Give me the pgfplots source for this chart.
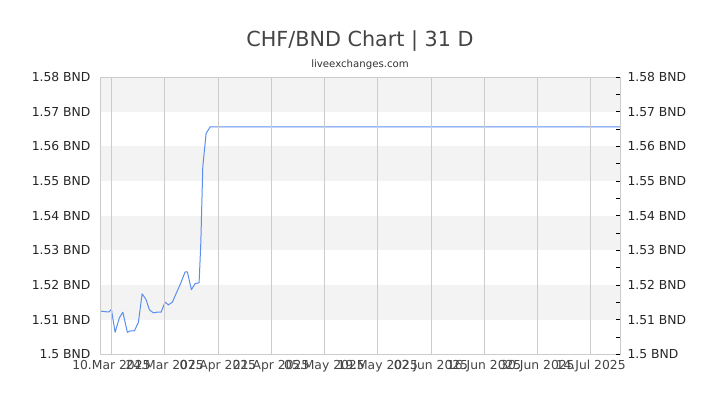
\documentclass[border=0pt]{standalone}
\usepackage{fontspec}
\setmainfont{DejaVu Sans}
\usepackage{pgfplots}
\pgfplotsset{compat=1.18}

\definecolor{band}{HTML}{F3F3F3}
\definecolor{gridc}{HTML}{CCCCCC}
\definecolor{linec}{HTML}{5B8DEE}
\definecolor{titlec}{HTML}{444444}

\begin{document}
\begin{tikzpicture}[x=1bp,y=1bp]
    \path[use as bounding box] (0,0) rectangle (720,405);
    \node[anchor=base, text=titlec, font={\fontsize{20.8}{24}\selectfont}] at (360,359) {CHF/BND Chart | 31 D};
    \node[anchor=base, text=black!80, font={\fontsize{10.2}{12}\selectfont}] at (360,337.5) {liveexchanges.com};

    % left axis with data
    \begin{axis}[
        at={(100bp,50.5bp)}, anchor=south west,
        scale only axis, width=520bp, height=277.5bp,
        xmin=-3, xmax=133.7, ymin=1.5, ymax=1.58,
        axis on top,
        axis line style={gridc},
        xtick={0,14,28,42,56,70,84,98,112,126},
        xticklabels={10.Mar 2025,24.Mar 2025,07.Apr 2025,21.Apr 2025,05.May 2025,19.May 2025,02.Jun 2025,16.Jun 2025,30.Jun 2025,14.Jul 2025},
        xmajorgrids, major grid style={gridc, line width=0.8bp},
        ytick={1.5,1.51,...,1.585},
        yticklabels={1.5 BND,1.51 BND,1.52 BND,1.53 BND,1.54 BND,1.55 BND,1.56 BND,1.57 BND,1.58 BND},
        major tick length=0pt,
        tick label style={font={\fontsize{12.4}{14}\selectfont}},
        xticklabel style={text=titlec, yshift=-2bp},
        yticklabel style={text=black!85, xshift=-6bp},
    ]
        \addplot[fill=band, draw=none, forget plot] coordinates {(-3,1.51) (133.7,1.51) (133.7,1.52) (-3,1.52)} -- cycle;
        \addplot[fill=band, draw=none, forget plot] coordinates {(-3,1.53) (133.7,1.53) (133.7,1.54) (-3,1.54)} -- cycle;
        \addplot[fill=band, draw=none, forget plot] coordinates {(-3,1.55) (133.7,1.55) (133.7,1.56) (-3,1.56)} -- cycle;
        \addplot[fill=band, draw=none, forget plot] coordinates {(-3,1.57) (133.7,1.57) (133.7,1.58) (-3,1.58)} -- cycle;
        \addplot[linec, line width=1bp, line join=round] coordinates {
            (-2.79,1.5125) (-1.21,1.5123) (-0.6,1.5123) (0.0,1.5130) (0.97,1.5064)
            (2.10,1.5106) (3.0,1.5122) (4.2,1.5064) (4.91,1.5068) (6.04,1.5068)
            (7.1,1.5093) (8.07,1.5175) (9.12,1.5158) (9.99,1.5129) (11.04,1.5120)
            (12.0,1.5122) (13.06,1.5122) (14.1,1.5151) (14.98,1.5143) (16.03,1.5151)
            (17.1,1.5178) (18.2,1.5205) (19.37,1.5238) (19.97,1.5238) (21.02,1.5187)
            (22.0,1.5204) (23.05,1.5207) (23.5,1.5321) (24.02,1.5541) (24.89,1.5637)
            (25.94,1.5656) (133.7,1.5656)
        };
    \end{axis}

    % right axis labels
    \begin{axis}[
        at={(100bp,50.5bp)}, anchor=south west,
        scale only axis, width=520bp, height=277.5bp,
        xmin=-3, xmax=133.7, ymin=1.5, ymax=1.58,
        axis x line=none,
        axis y line*=right,
        axis line style={gridc},
        ytick={1.5,1.51,...,1.585},
        yticklabels={1.5 BND,1.51 BND,1.52 BND,1.53 BND,1.54 BND,1.55 BND,1.56 BND,1.57 BND,1.58 BND},
        minor ytick={1.505,1.515,...,1.58},
        tick align=inside,
        major tick length=4bp, minor tick length=4bp,
        tick style={black, line width=0.8bp},
        tick label style={font={\fontsize{12.4}{14}\selectfont}},
        yticklabel style={text=black!85, xshift=4bp},
    ]
        \addplot[draw=none] coordinates {(0,1.5) (1,1.58)};
    \end{axis}
\end{tikzpicture}
\end{document}
